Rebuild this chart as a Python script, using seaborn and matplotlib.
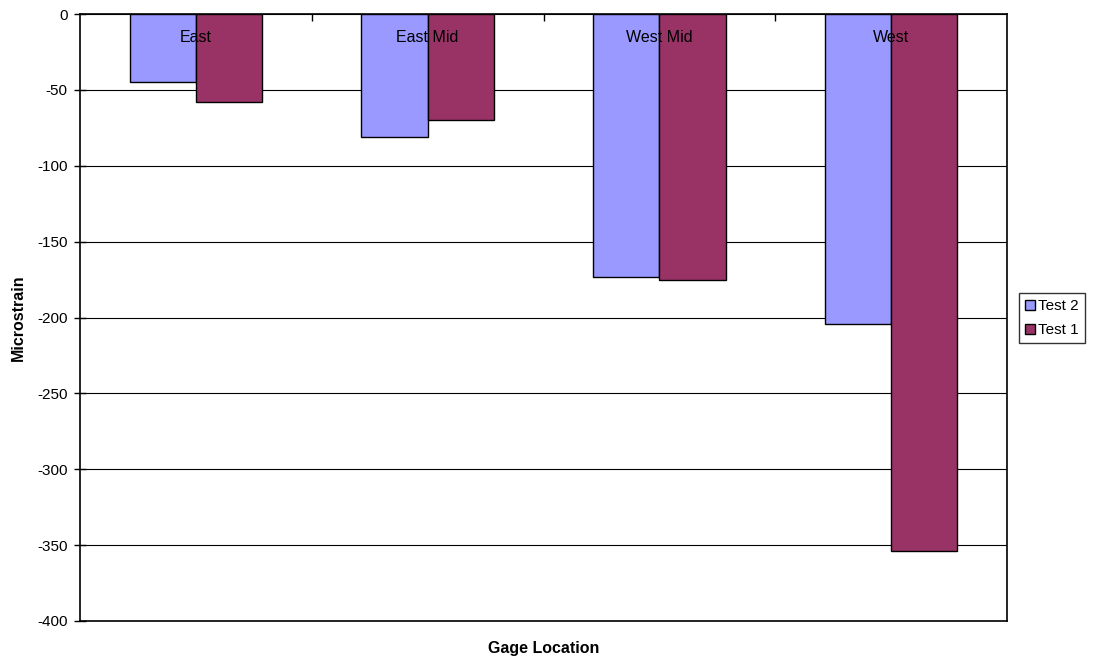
import matplotlib
matplotlib.use("Agg")
import matplotlib.pyplot as plt
import matplotlib.transforms as mtransforms
import seaborn as sns
import pandas as pd

# Gage readings (microstrain) per location and test
locations = ["East", "East Mid", "West Mid", "West"]
series_names = ["Test 2", "Test 1"]
test2 = [-45, -81, -173, -204]
test1 = [-58, -70, -175, -354]
y_ticks = [0, -50, -100, -150, -200, -250, -300, -350, -400]

df = pd.DataFrame({
    "Gage Location": locations * 2,
    "Series": [series_names[0]] * len(locations) + [series_names[1]] * len(locations),
    "Microstrain": test2 + test1,
})

sns.set_theme(style="white")
plt.rcParams["font.family"] = ["Liberation Sans", "DejaVu Sans"]
plt.rcParams["text.color"] = "black"

fig = plt.figure(figsize=(10.97, 6.62), dpi=100)
ax = fig.add_axes([80 / 1097, 1 - 621 / 662, 927 / 1097, 607 / 662])

palette = {"Test 2": "#9999FF", "Test 1": "#993366"}
sns.barplot(
    data=df, x="Gage Location", y="Microstrain", hue="Series",
    order=locations, hue_order=series_names, palette=palette,
    width=0.571, edgecolor="black", linewidth=1.0, saturation=1,
    errorbar=None, ax=ax,
)

ax.set_xlim(-0.5, len(locations) - 0.5)
ax.set_ylim(-400, 0)
ax.set_yticks(y_ticks)
ax.set_yticklabels([str(v) for v in y_ticks], fontsize=11)
ax.set_axisbelow(True)
ax.yaxis.grid(True, color="black", linewidth=0.8)
ax.xaxis.grid(False)

for side in ["left", "right", "top", "bottom"]:
    ax.spines[side].set_visible(True)
    ax.spines[side].set_color("black")
    ax.spines[side].set_linewidth(1.2)

ax.tick_params(axis="y", which="major", left=True, direction="inout",
               length=8, width=1, color="black", pad=5, labelcolor="black")

# Category axis sits on the zero line at the top; labels hang inside the plot
ax.set_xticks(range(len(locations)))
ax.set_xticklabels([])
ax.tick_params(axis="x", which="major", length=0, bottom=False, top=False)
ax.set_xticks([i + 0.5 for i in range(len(locations) - 1)], minor=True)
ax.tick_params(axis="x", which="minor", top=True, bottom=False,
               direction="in", length=5, width=1, color="black")
trans = mtransforms.blended_transform_factory(ax.transData, ax.transAxes)
for i, name in enumerate(locations):
    ax.text(i, 1 - 24 / 607, name, transform=trans, ha="center", va="center",
            fontsize=11.5, color="black", zorder=5)

ax.set_xlabel("Gage Location", fontsize=11.5, fontweight="bold", va="center",
              color="black")
ax.xaxis.set_label_coords(0.5, -27 / 607)
ax.set_ylabel("Microstrain", fontsize=11.5, fontweight="bold", va="center",
              color="black")
ax.yaxis.set_label_coords(-62 / 927, 0.5)

leg = ax.legend(
    loc="upper left", bbox_to_anchor=(1019 / 1097, 1 - 293 / 662),
    bbox_transform=fig.transFigure, frameon=True, fontsize=11,
    handlelength=0.65, handleheight=0.65, handletextpad=0.2,
    borderpad=0.4, labelspacing=0.65, borderaxespad=0, fancybox=False,
    labelcolor="black",
)
leg.get_frame().set_edgecolor("black")
leg.get_frame().set_linewidth(1.0)

fig.savefig("out.png", dpi=100, facecolor="white")
